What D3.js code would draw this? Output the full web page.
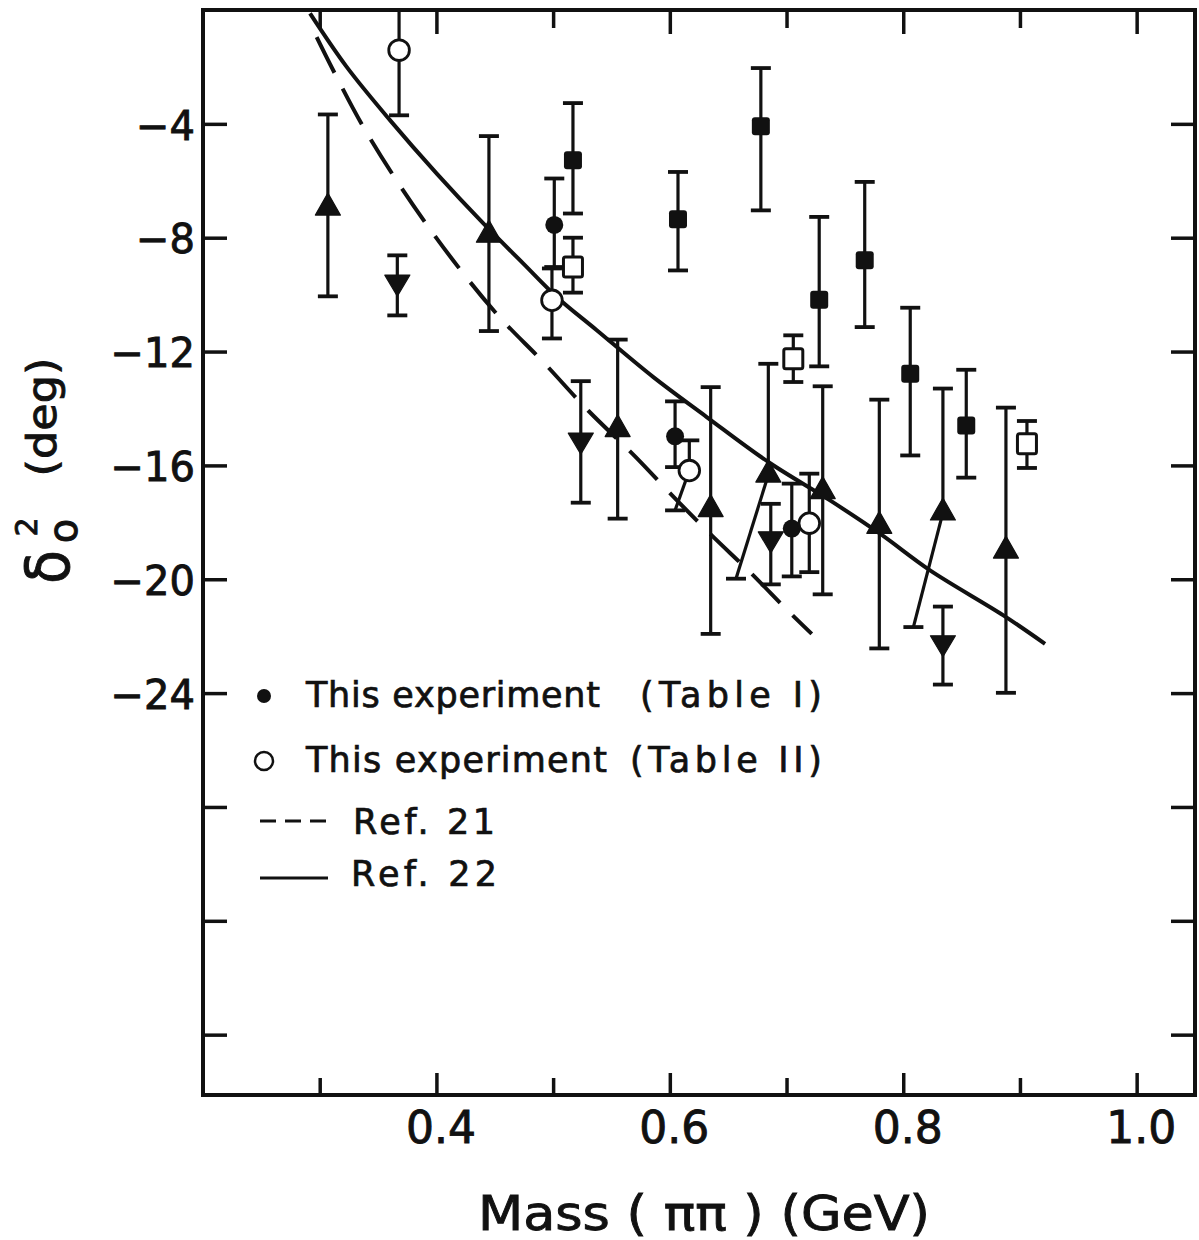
<!DOCTYPE html>
<html>
<head>
<meta charset="utf-8">
<script src="https://cdn.jsdelivr.net/npm/d3@7"></script>
<style>
  html, body { margin: 0; padding: 0; background: #ffffff; }
  svg { display: block; }
</style>
</head>
<body>
<svg id="chart" width="1199" height="1240"></svg>
<script>
// ---------------- DATA ----------------
// Axis ticks
const xMajorTicks = [0.4, 0.6, 0.8, 1.0];
const xMinorTicks = [0.3, 0.5, 0.7, 0.9];
const xTickLabels = ["0.4", "0.6", "0.8", "1.0"];
const yTickValues = [-4, -8, -12, -16, -20, -24, -28, -32, -36];
const yLabelledTicks = [-4, -8, -12, -16, -20, -24];

// m = mass (GeV), d = delta (deg), lo/hi = error-bar ends, loM = mass where a displaced lower bar ends
const tableI = [            // filled circles
  { m: 0.501,  d: -7.55,  lo: -9.03,  hi: -5.92 },
  { m: 0.6045, d: -14.98, lo: -16.06, hi: -13.75 },
  { m: 0.7045, d: -18.22, lo: -19.90, hi: -16.64 }
];
const tableII = [           // open circles
  { m: 0.368,  d: -1.41,  lo: -3.70,  hi: 0.0 },
  { m: 0.499,  d: -10.20, lo: -11.54, hi: -9.08 },
  { m: 0.6167, d: -16.18, lo: -17.58, hi: -15.12, loM: 0.6045 },
  { m: 0.7195, d: -18.03, lo: -19.75, hi: -16.29 }
];
const filledSquares = [
  { m: 0.517, d: -5.28,  lo: -7.15,  hi: -3.27 },
  { m: 0.607, d: -7.35,  lo: -9.15,  hi: -5.69 },
  { m: 0.678, d: -4.08,  lo: -7.04,  hi: -2.04 },
  { m: 0.728, d: -10.18, lo: -12.52, hi: -7.27 },
  { m: 0.767, d: -8.79,  lo: -11.14, hi: -6.04 },
  { m: 0.806, d: -12.78, lo: -15.65, hi: -10.46 },
  { m: 0.854, d: -14.60, lo: -16.43, hi: -12.64 }
];
const openSquares = [
  { m: 0.517,  d: -9.03,  lo: -9.93,  hi: -8.00 },
  { m: 0.7058, d: -12.25, lo: -13.07, hi: -11.43 },
  { m: 0.906,  d: -15.24, lo: -16.09, hi: -14.44 }
];
const upTriangles = [
  { m: 0.307,  d: -6.95,  lo: -10.06, hi: -3.67 },
  { m: 0.445,  d: -7.90,  lo: -11.28, hi: -4.43 },
  { m: 0.5553, d: -14.73, lo: -17.87, hi: -11.58 },
  { m: 0.635,  d: -17.54, lo: -21.92, hi: -13.25 },
  { m: 0.6844, d: -16.33, lo: -19.98, hi: -12.43, loM: 0.6567 },
  { m: 0.731,  d: -16.91, lo: -20.53, hi: -13.22 },
  { m: 0.7795, d: -18.13, lo: -22.43, hi: -13.69 },
  { m: 0.834,  d: -17.66, lo: -21.68, hi: -13.30, loM: 0.8087 },
  { m: 0.888,  d: -19.00, lo: -23.99, hi: -13.97 }
];
const downTriangles = [
  { m: 0.3665, d: -9.56,  lo: -10.73, hi: -8.62 },
  { m: 0.5237, d: -15.11, lo: -17.31, hi: -13.04 },
  { m: 0.6865, d: -18.58, lo: -20.18, hi: -17.35 },
  { m: 0.834,  d: -22.23, lo: -23.70, hi: -20.96 }
];
// Theory curves [mass, delta]
const ref21 = [
  [0.2974, -0.95], [0.3374, -4.11], [0.3931, -7.62], [0.4502, -10.61],
  [0.4916, -12.37], [0.5302, -14.08], [0.5702, -15.68], [0.6059, -17.22],
  [0.6359, -18.46], [0.6687, -19.75], [0.7015, -21.12], [0.7216, -21.92]
];
const ref22 = [
  [0.2917, -0.12], [0.3231, -2.00], [0.3602, -3.87], [0.4003, -5.75],
  [0.4402, -7.50], [0.4745, -8.91], [0.5031, -10.08], [0.5374, -11.25],
  [0.5859, -12.90], [0.6316, -14.30], [0.6844, -15.88], [0.7373, -17.23],
  [0.7801, -18.40], [0.8230, -19.69], [0.8858, -21.27], [0.9215, -22.27]
];
const legendLabels = [
  ["This experiment", "(Table I)"],
  ["This experiment", "(Table II)"],
  ["Ref. 21"],
  ["Ref. 22"]
];
const xTitle = "Mass ( ππ ) (GeV)";
const yTitleParts = { sym: "δ", sup: "2", sub: "o", unit: "(deg)" };

// ---------------- DRAWING ----------------
(function () {
const INK = "#111";
const FONT = "'DejaVu Sans', 'Liberation Sans', sans-serif";
const TXT_STROKE = 0.9;
const svg = d3.select("#chart");
svg.append("rect").attr("width", 1199).attr("height", 1240).attr("fill", "#fff");

const pL = 203, pR = 1195, pT = 10, pB = 1095;
const x = d3.scaleLinear().domain([0.2, 1.05]).range([pL, pR]);
const y = d3.scaleLinear().domain([-38.12, 0]).range([pB, pT]);

// Axes (ticks pointing inward on all four sides)
function styleAxis(g) {
  g.select(".domain").remove();
  g.selectAll(".tick line").attr("stroke", INK).attr("stroke-width", 3.5);
  g.selectAll(".tick text").attr("fill", INK).attr("font-family", FONT)
    .attr("stroke", INK).attr("stroke-width", TXT_STROKE);
}
svg.append("g").attr("transform", `translate(0,${pB})`)
  .call(d3.axisBottom(x).tickValues(xMajorTicks).tickSize(-22).tickPadding(17)
    .tickFormat((d, i) => xTickLabels[i]))
  .call(styleAxis)
  .call(g => g.selectAll(".tick text").attr("font-size", 44).attr("dx", 4));
svg.append("g").attr("transform", `translate(0,${pB})`)
  .call(d3.axisBottom(x).tickValues(xMinorTicks).tickSize(-17).tickFormat(""))
  .call(styleAxis);
svg.append("g").attr("transform", `translate(0,${pT})`)
  .call(d3.axisTop(x).tickValues(xMajorTicks).tickSize(-24).tickFormat(""))
  .call(styleAxis);
svg.append("g").attr("transform", `translate(0,${pT})`)
  .call(d3.axisTop(x).tickValues(xMinorTicks).tickSize(-18).tickFormat(""))
  .call(styleAxis);
svg.append("g").attr("transform", `translate(${pL},0)`)
  .call(d3.axisLeft(y).tickValues(yTickValues).tickSize(-24).tickPadding(8)
    .tickFormat(d => yLabelledTicks.includes(d) ? d3.format("d")(d) : ""))
  .call(styleAxis)
  .call(g => g.selectAll(".tick text").attr("font-size", 40).attr("dy", "0.38em"));
svg.append("g").attr("transform", `translate(${pR},0)`)
  .call(d3.axisRight(y).tickValues(yTickValues).tickSize(-24).tickFormat(""))
  .call(styleAxis);

// Frame
svg.append("rect").attr("x", pL).attr("y", pT)
  .attr("width", pR - pL).attr("height", pB - pT)
  .attr("fill", "none").attr("stroke", INK).attr("stroke-width", 4);

// Axis titles
svg.append("text").attr("x", 478).attr("y", 1230)
  .attr("font-family", FONT).attr("font-size", 48).attr("fill", INK)
  .attr("stroke", INK).attr("stroke-width", TXT_STROKE)
  .attr("textLength", 452).attr("lengthAdjust", "spacingAndGlyphs")
  .text(xTitle);

function rotText(px, py, size, txt, len) {
  const t = svg.append("text")
    .attr("transform", `translate(${px},${py}) rotate(-90)`)
    .attr("text-anchor", "middle")
    .attr("font-family", FONT).attr("font-size", size).attr("fill", INK)
    .attr("stroke", INK).attr("stroke-width", TXT_STROKE)
    .text(txt);
  if (len) t.attr("textLength", len).attr("lengthAdjust", "spacingAndGlyphs");
  return t;
}
rotText(69, 567, 60, yTitleParts.sym, 34);
rotText(37, 527, 30, yTitleParts.sup);
rotText(77, 531, 40, yTitleParts.sub);
rotText(56, 417, 40, yTitleParts.unit, 119);

// Curves
const clipId = "plotclip";
svg.append("clipPath").attr("id", clipId).append("rect")
  .attr("x", pL).attr("y", pT).attr("width", pR - pL).attr("height", pB - pT);
const line = d3.line().x(d => x(d[0])).y(d => y(d[1])).curve(d3.curveCatmullRom.alpha(0.5));
svg.append("path").datum(ref22).attr("d", line)
  .attr("fill", "none").attr("stroke", INK).attr("stroke-width", 4)
  .attr("clip-path", `url(#${clipId})`);
svg.append("path").datum(ref21).attr("d", line)
  .attr("fill", "none").attr("stroke", INK).attr("stroke-width", 4)
  .attr("stroke-dasharray", "40,18").attr("clip-path", `url(#${clipId})`);

// Series config (marker type per data array)
const series = [
  { data: filledSquares, type: "fsquare" },
  { data: openSquares, type: "osquare" },
  { data: upTriangles, type: "up" },
  { data: downTriangles, type: "down" },
  { data: tableI, type: "fcircle" },
  { data: tableII, type: "ocircle" }
];

// Error bars
const eb = svg.append("g").attr("stroke", INK).attr("stroke-width", 3.2).attr("fill", "none");
const CAP = 10;
series.forEach(s => {
  s.data.forEach(p => {
    const xm = x(p.m), xl = x(p.loM !== undefined ? p.loM : p.m);
    eb.append("line").attr("x1", xm).attr("x2", xm).attr("y1", y(p.hi)).attr("y2", y(p.d));
    eb.append("line").attr("x1", xm).attr("x2", xl).attr("y1", y(p.d)).attr("y2", y(p.lo));
    eb.append("line").attr("x1", xm - CAP).attr("x2", xm + CAP).attr("y1", y(p.hi)).attr("y2", y(p.hi)).attr("stroke-width", 3.8);
    eb.append("line").attr("x1", xl - CAP).attr("x2", xl + CAP).attr("y1", y(p.lo)).attr("y2", y(p.lo)).attr("stroke-width", 3.8);
  });
});

// Markers
const mk = svg.append("g");
function drawMarker(g, type, cx, cy) {
  if (type === "fsquare") {
    g.append("rect").attr("x", cx - 9).attr("y", cy - 9).attr("width", 18).attr("height", 18)
      .attr("rx", 3).attr("fill", INK);
  } else if (type === "osquare") {
    g.append("rect").attr("x", cx - 9.5).attr("y", cy - 10).attr("width", 19).attr("height", 20)
      .attr("rx", 2).attr("fill", "#fff").attr("stroke", INK).attr("stroke-width", 3);
  } else if (type === "up") {
    g.append("path").attr("d", `M${cx},${cy - 14.7}L${cx + 12.5},${cy + 7.3}L${cx - 12.5},${cy + 7.3}Z`)
      .attr("fill", INK).attr("stroke", INK).attr("stroke-width", 1.2).attr("stroke-linejoin", "round");
  } else if (type === "down") {
    g.append("path").attr("d", `M${cx},${cy + 14}L${cx + 12.5},${cy - 7}L${cx - 12.5},${cy - 7}Z`)
      .attr("fill", INK).attr("stroke", INK).attr("stroke-width", 1.2).attr("stroke-linejoin", "round");
  } else if (type === "fcircle") {
    g.append("circle").attr("cx", cx).attr("cy", cy).attr("r", 9).attr("fill", INK);
  } else if (type === "ocircle") {
    g.append("circle").attr("cx", cx).attr("cy", cy).attr("r", 10.3)
      .attr("fill", "#fff").attr("stroke", INK).attr("stroke-width", 2.8);
  }
}
series.forEach(s => s.data.forEach(p => drawMarker(mk, s.type, x(p.m), y(p.d))));

// Legend
const lg = svg.append("g").attr("font-family", FONT).attr("font-size", 35).attr("fill", INK);
lg.append("circle").attr("cx", 264).attr("cy", 696).attr("r", 7).attr("fill", INK);
lg.append("circle").attr("cx", 264).attr("cy", 761).attr("r", 9)
  .attr("fill", "#fff").attr("stroke", INK).attr("stroke-width", 2.5);
lg.append("line").attr("x1", 260).attr("x2", 331).attr("y1", 821).attr("y2", 821)
  .attr("stroke", INK).attr("stroke-width", 3).attr("stroke-dasharray", "16,9");
lg.append("line").attr("x1", 260).attr("x2", 328).attr("y1", 878).attr("y2", 878)
  .attr("stroke", INK).attr("stroke-width", 3);
const legendRows = [
  { baseline: 707, parts: [[306, 294], [640, 182]] },
  { baseline: 772, parts: [[306, 301], [630, 192]] },
  { baseline: 834, parts: [[353, 142]] },
  { baseline: 886, parts: [[351, 146]] }
];
legendRows.forEach((r, i) => {
  r.parts.forEach((pp, j) => {
    lg.append("text").attr("x", pp[0]).attr("y", r.baseline)
      .attr("stroke", INK).attr("stroke-width", TXT_STROKE * 0.8)
      .attr("textLength", pp[1]).attr("lengthAdjust", "spacing")
      .text(legendLabels[i][j]);
  });
});
})();
</script>
</body>
</html>
